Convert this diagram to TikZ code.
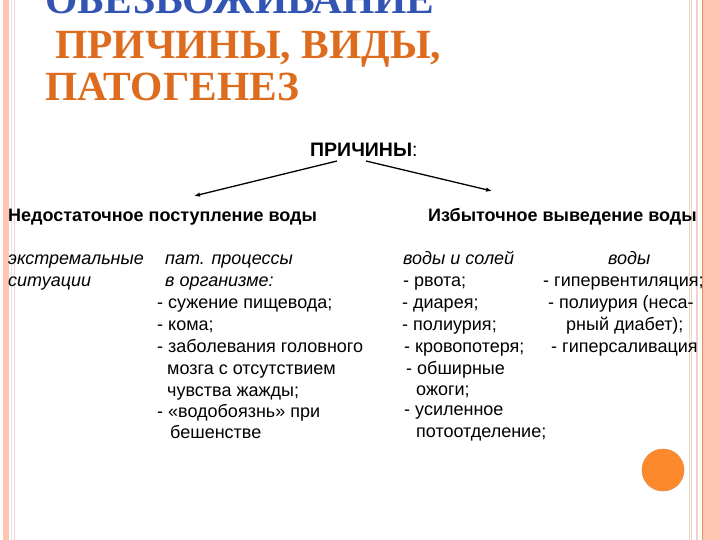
\documentclass[tikz,border=0pt]{standalone}
\usepackage{fontspec}
\setmainfont{Liberation Sans}
\newfontfamily\titlefont{Liberation Serif}
\usetikzlibrary{arrows.meta}
\definecolor{ttlblue}{RGB}{50,85,180}
\definecolor{ttlorange}{RGB}{222,108,30}
\definecolor{stripe}{RGB}{252,198,176}
\definecolor{stripeline}{RGB}{236,140,100}
\definecolor{thinA}{RGB}{236,214,200}
\definecolor{thinB}{RGB}{226,226,240}
\definecolor{dotorange}{RGB}{252,138,44}
\definecolor{dotedge}{RGB}{230,140,70}
\begin{document}
\begin{tikzpicture}[x=1pt,y=-1pt,
  ttl/.style={anchor=base west, inner sep=0pt, font=\titlefont\bfseries\fontsize{41.5}{41}\selectfont},
  txt/.style={anchor=base west, inner sep=0pt, font=\fontsize{18}{20}\selectfont},
  itx/.style={anchor=base west, inner sep=0pt, font=\itshape\fontsize{18}{20}\selectfont},
  head/.style={anchor=base west, inner sep=0pt, font=\bfseries\fontsize{18}{20}\selectfont},
  arr/.style={line width=1.3pt, -{Latex[length=6pt,width=4.5pt]}}]
\clip (0,0) rectangle (720,540);
\fill[white] (0,0) rectangle (720,540);
% left border
\fill[stripe] (3,0) rectangle (9,540);
\draw[thinB, line width=0.8pt] (11.5,0) -- (11.5,540);
\draw[thinA, line width=0.8pt] (14.5,0) -- (14.5,540);
% right border
\draw[thinA, line width=1pt] (689,0) -- (689,540);
\draw[thinA, line width=1.5pt] (691.5,0) -- (691.5,540);
\draw[thinA, line width=1.5pt] (697,0) -- (697,540);
\fill[stripe] (702,0) rectangle (720,540);
\draw[stripeline, line width=1pt] (702,0) -- (702,540);
% title
\node[ttl, text=ttlblue] (t1) at (45,14) {ОБЕЗВОЖИВАНИЕ};
\node[ttl, text=ttlorange] (t2) at (55,59) {ПРИЧИНЫ, ВИДЫ,};
\node[ttl, text=ttlorange] (t3) at (45,101) {ПАТОГЕНЕЗ};
% causes
\node[anchor=base west, inner sep=0pt, font=\fontsize{19.5}{22}\selectfont] (pr) at (310,157) {\textbf{ПРИЧИНЫ}:};
\node[head] (h1) at (8,222) {Недостаточное поступление воды};
\node[head] (h2) at (428,222) {Избыточное выведение воды};
\coordinate (a1s) at (337,161);
\coordinate (a1e) at (194,196);
\coordinate (a2s) at (366,161);
\coordinate (a2e) at (492,191);
\draw[arr] (a1s) -- (a1e);
\draw[arr] (a2s) -- (a2e);
% left column
\node[itx] (l1) at (8,264) {экстремальные};
\node[itx] (l2) at (8,286) {ситуации};
\node[itx] (m1) at (165,264) {пат. процессы};
\node[itx] (m2) at (165,286) {в организме:};
\node[txt] (m3) at (157,308) {- сужение пищевода;};
\node[txt] (m4) at (157,330) {- кома;};
\node[txt] (m5) at (157,352) {- заболевания головного};
\node[txt] (m6) at (167,374) {мозга с отсутствием};
\node[txt] (m7) at (167,396) {чувства жажды;};
\node[txt] (m8) at (157,417) {- «водобоязнь» при};
\node[txt] (m9) at (170,438) {бешенстве};
% right column
\node[itx] (r1) at (403,264) {воды и солей};
\node[itx] (s1) at (608,264) {воды};
\node[txt] (r2) at (403,286) {- рвота;};
\node[txt] (r3) at (402,308) {- диарея;};
\node[txt] (r4) at (402,330) {- полиурия;};
\node[txt] (r5) at (404,352) {- кровопотеря;};
\node[txt] (r6) at (406,374) {- обширные};
\node[txt] (r7) at (416,395) {ожоги;};
\node[txt] (r8) at (404,415) {- усиленное};
\node[txt] (r9) at (416,437) {потоотделение;};
\node[txt] (s2) at (543,286) {- гипервентиляция;};
\node[txt] (s3) at (548,308) {- полиурия (неса-};
\node[txt] (s4) at (566,330) {рный диабет);};
\node[txt] (s5) at (551,352) {- гиперсаливация};
% orange dot
\fill[dotorange, draw=dotedge, line width=0.6pt] (663,470) circle (21);
\end{tikzpicture}
\end{document}
